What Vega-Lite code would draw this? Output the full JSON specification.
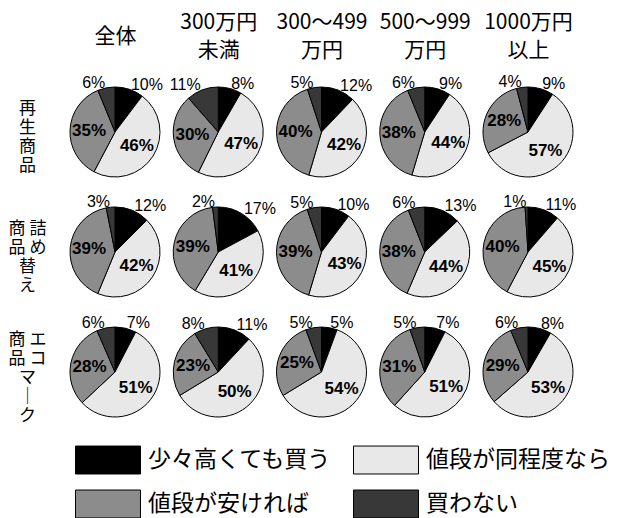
{
  "$schema": "https://vega.github.io/schema/vega-lite/v6.json",
  "width": 620,
  "height": 518,
  "autosize": {"type": "none"},
  "padding": 0,
  "background": "white",
  "data": {
    "values": [
      {"item": "再生商品", "group": "全体", "cat": "少々高くても買う", "value": 10},
      {"item": "再生商品", "group": "全体", "cat": "値段が同程度なら", "value": 46},
      {"item": "再生商品", "group": "全体", "cat": "値段が安ければ", "value": 35},
      {"item": "再生商品", "group": "全体", "cat": "買わない", "value": 6},
      {"item": "再生商品", "group": "300万円未満", "cat": "少々高くても買う", "value": 8},
      {"item": "再生商品", "group": "300万円未満", "cat": "値段が同程度なら", "value": 47},
      {"item": "再生商品", "group": "300万円未満", "cat": "値段が安ければ", "value": 30},
      {"item": "再生商品", "group": "300万円未満", "cat": "買わない", "value": 11},
      {"item": "再生商品", "group": "300～499万円", "cat": "少々高くても買う", "value": 12},
      {"item": "再生商品", "group": "300～499万円", "cat": "値段が同程度なら", "value": 42},
      {"item": "再生商品", "group": "300～499万円", "cat": "値段が安ければ", "value": 40},
      {"item": "再生商品", "group": "300～499万円", "cat": "買わない", "value": 5},
      {"item": "再生商品", "group": "500～999万円", "cat": "少々高くても買う", "value": 9},
      {"item": "再生商品", "group": "500～999万円", "cat": "値段が同程度なら", "value": 44},
      {"item": "再生商品", "group": "500～999万円", "cat": "値段が安ければ", "value": 38},
      {"item": "再生商品", "group": "500～999万円", "cat": "買わない", "value": 6},
      {"item": "再生商品", "group": "1000万円以上", "cat": "少々高くても買う", "value": 9},
      {"item": "再生商品", "group": "1000万円以上", "cat": "値段が同程度なら", "value": 57},
      {"item": "再生商品", "group": "1000万円以上", "cat": "値段が安ければ", "value": 28},
      {"item": "再生商品", "group": "1000万円以上", "cat": "買わない", "value": 4},
      {"item": "詰め替え商品", "group": "全体", "cat": "少々高くても買う", "value": 12},
      {"item": "詰め替え商品", "group": "全体", "cat": "値段が同程度なら", "value": 42},
      {"item": "詰め替え商品", "group": "全体", "cat": "値段が安ければ", "value": 39},
      {"item": "詰め替え商品", "group": "全体", "cat": "買わない", "value": 3},
      {"item": "詰め替え商品", "group": "300万円未満", "cat": "少々高くても買う", "value": 17},
      {"item": "詰め替え商品", "group": "300万円未満", "cat": "値段が同程度なら", "value": 41},
      {"item": "詰め替え商品", "group": "300万円未満", "cat": "値段が安ければ", "value": 39},
      {"item": "詰め替え商品", "group": "300万円未満", "cat": "買わない", "value": 2},
      {"item": "詰め替え商品", "group": "300～499万円", "cat": "少々高くても買う", "value": 10},
      {"item": "詰め替え商品", "group": "300～499万円", "cat": "値段が同程度なら", "value": 43},
      {"item": "詰め替え商品", "group": "300～499万円", "cat": "値段が安ければ", "value": 39},
      {"item": "詰め替え商品", "group": "300～499万円", "cat": "買わない", "value": 5},
      {"item": "詰め替え商品", "group": "500～999万円", "cat": "少々高くても買う", "value": 13},
      {"item": "詰め替え商品", "group": "500～999万円", "cat": "値段が同程度なら", "value": 44},
      {"item": "詰め替え商品", "group": "500～999万円", "cat": "値段が安ければ", "value": 38},
      {"item": "詰め替え商品", "group": "500～999万円", "cat": "買わない", "value": 6},
      {"item": "詰め替え商品", "group": "1000万円以上", "cat": "少々高くても買う", "value": 11},
      {"item": "詰め替え商品", "group": "1000万円以上", "cat": "値段が同程度なら", "value": 45},
      {"item": "詰め替え商品", "group": "1000万円以上", "cat": "値段が安ければ", "value": 40},
      {"item": "詰め替え商品", "group": "1000万円以上", "cat": "買わない", "value": 1},
      {"item": "エコマーク商品", "group": "全体", "cat": "少々高くても買う", "value": 7},
      {"item": "エコマーク商品", "group": "全体", "cat": "値段が同程度なら", "value": 51},
      {"item": "エコマーク商品", "group": "全体", "cat": "値段が安ければ", "value": 28},
      {"item": "エコマーク商品", "group": "全体", "cat": "買わない", "value": 6},
      {"item": "エコマーク商品", "group": "300万円未満", "cat": "少々高くても買う", "value": 11},
      {"item": "エコマーク商品", "group": "300万円未満", "cat": "値段が同程度なら", "value": 50},
      {"item": "エコマーク商品", "group": "300万円未満", "cat": "値段が安ければ", "value": 23},
      {"item": "エコマーク商品", "group": "300万円未満", "cat": "買わない", "value": 8},
      {"item": "エコマーク商品", "group": "300～499万円", "cat": "少々高くても買う", "value": 5},
      {"item": "エコマーク商品", "group": "300～499万円", "cat": "値段が同程度なら", "value": 54},
      {"item": "エコマーク商品", "group": "300～499万円", "cat": "値段が安ければ", "value": 25},
      {"item": "エコマーク商品", "group": "300～499万円", "cat": "買わない", "value": 5},
      {"item": "エコマーク商品", "group": "500～999万円", "cat": "少々高くても買う", "value": 7},
      {"item": "エコマーク商品", "group": "500～999万円", "cat": "値段が同程度なら", "value": 51},
      {"item": "エコマーク商品", "group": "500～999万円", "cat": "値段が安ければ", "value": 31},
      {"item": "エコマーク商品", "group": "500～999万円", "cat": "買わない", "value": 5},
      {"item": "エコマーク商品", "group": "1000万円以上", "cat": "少々高くても買う", "value": 8},
      {"item": "エコマーク商品", "group": "1000万円以上", "cat": "値段が同程度なら", "value": 53},
      {"item": "エコマーク商品", "group": "1000万円以上", "cat": "値段が安ければ", "value": 29},
      {"item": "エコマーク商品", "group": "1000万円以上", "cat": "買わない", "value": 6}
    ]
  },
  "transform": [
    {"calculate": "indexof(['少々高くても買う', '値段が同程度なら', '値段が安ければ', '買わない'], datum.cat)", "as": "k"},
    {"stack": "value", "groupby": ["item", "group"], "sort": [{"field": "k", "order": "ascending"}], "offset": "normalize", "as": ["v0", "v1"]},
    {"calculate": "(datum.v0 + datum.v1) / 2", "as": "vm"},
    {"calculate": "datum.value + '%'", "as": "label"}
  ],
  "encoding": {
    "x": {
      "field": "group",
      "type": "nominal",
      "sort": ["全体", "300万円未満", "300～499万円", "500～999万円", "1000万円以上"],
      "scale": {"type": "point", "range": [115, 528], "padding": 0},
      "axis": {
        "orient": "top",
        "offset": -22,
        "title": null,
        "domain": false,
        "ticks": false,
        "tickSize": 0,
        "grid": false,
        "labelPadding": {"condition": {"test": "datum.value == '全体'", "value": -14}, "value": 0},
        "labelAngle": 0,
        "labelBaseline": "middle",
        "labelAlign": "center",
        "labelFont": "Noto Sans CJK JP",
        "labelFontSize": 21,
        "labelLineHeight": 28,
        "labelColor": "black",
        "labelOverlap": false,
        "labelLimit": 0,
        "labelExpr": "datum.value == '全体' ? '全体' : datum.value == '300万円未満' ? ['300万円', '未満'] : datum.value == '300～499万円' ? ['300～499', '万円'] : datum.value == '500～999万円' ? ['500～999', '万円'] : ['1000万円', '以上']"
      }
    },
    "y": {
      "field": "item",
      "type": "nominal",
      "sort": ["再生商品", "詰め替え商品", "エコマーク商品"],
      "scale": {"type": "point", "range": [132, 372], "padding": 0},
      "axis": {
        "orient": "left",
        "offset": -27,
        "title": null,
        "domain": false,
        "ticks": false,
        "tickSize": 0,
        "grid": false,
        "labelPadding": 0,
        "labelAngle": 0,
        "labelAlign": "center",
        "labelBaseline": "middle",
        "labelOffset": {"condition": {"test": "datum.value == 'エコマーク商品'", "value": -33}, "value": -24},
        "labelFont": "Noto Sans CJK JP",
        "labelFontSize": 17,
        "labelLineHeight": 19,
        "labelColor": "black",
        "labelOverlap": false,
        "labelLimit": 0,
        "labelExpr": "datum.value == '再生商品' ? ['再', '生', '商', '品'] : datum.value == '詰め替え商品' ? ['商 詰', '品 め', '　 替', '　 え'] : ['商 エ', '品 コ', '　 マ', '　 ｜', '　 ク']"
      }
    }
  },
  "layer": [
    {
      "mark": {"type": "arc", "outerRadius": 45, "stroke": "black", "strokeWidth": 1},
      "encoding": {
        "theta": {"field": "v0", "type": "quantitative", "stack": null, "scale": {"domain": [0, 1]}},
        "theta2": {"field": "v1"},
        "color": {
          "field": "cat",
          "type": "nominal",
          "scale": {
            "domain": ["少々高くても買う", "値段が同程度なら", "値段が安ければ", "買わない"],
            "range": ["#000000", "#e8e8e8", "#8c8c8c", "#383838"]
          },
          "legend": {
            "orient": "none",
            "direction": "horizontal",
            "legendX": 91,
            "legendY": 443,
            "columns": 2,
            "title": null,
            "padding": 0,
            "symbolType": "M-2,-0.86H2V0.86H-2Z",
            "symbolSize": 1056,
            "symbolStrokeColor": "black",
            "symbolStrokeWidth": 1,
            "labelFont": "Noto Sans CJK JP",
            "labelFontSize": 23,
            "labelColor": "black",
            "labelOffset": 23,
            "labelLimit": 0,
            "rowPadding": 11,
            "columnPadding": 19
          }
        }
      }
    },
    {
      "transform": [{"filter": "datum.k == 1 || datum.k == 2"}],
      "mark": {"type": "text", "radius": 26, "align": "center", "baseline": "middle", "font": "Liberation Sans", "fontSize": 17, "fontWeight": "bold", "color": "black"},
      "encoding": {
        "theta": {"field": "vm", "type": "quantitative", "scale": {"domain": [0, 1]}},
        "text": {"field": "label"}
      }
    },
    {
      "transform": [{"filter": "datum.k == 0"}],
      "mark": {"type": "text", "radius": 50, "align": "left", "baseline": "middle", "font": "Liberation Sans", "fontSize": 16, "color": "black"},
      "encoding": {
        "theta": {"field": "vm", "type": "quantitative", "scale": {"domain": [0, 1]}},
        "text": {"field": "label"}
      }
    },
    {
      "transform": [{"filter": "datum.k == 3"}],
      "mark": {"type": "text", "radius": 50, "align": "right", "baseline": "middle", "font": "Liberation Sans", "fontSize": 16, "color": "black"},
      "encoding": {
        "theta": {"field": "vm", "type": "quantitative", "scale": {"domain": [0, 1]}},
        "text": {"field": "label"}
      }
    }
  ],
  "config": {
    "view": {"stroke": null}
  }
}
